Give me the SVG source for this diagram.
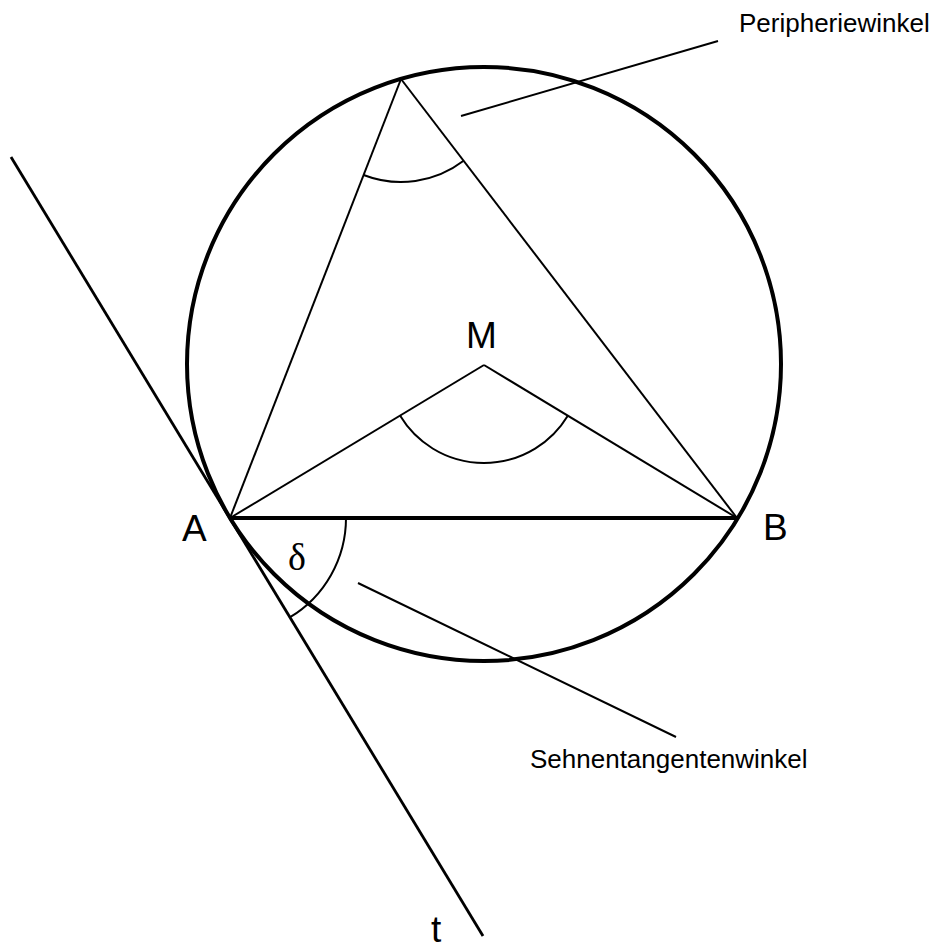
<svg xmlns="http://www.w3.org/2000/svg" width="938" height="951" viewBox="0 0 938 951">
<style>
.thin{fill:none;stroke:#000;stroke-width:2}
.thick{fill:none;stroke:#000;stroke-width:4}
.tan{fill:none;stroke:#000;stroke-width:2.8}
.lbl{font-family:"Liberation Sans",Arial,sans-serif;font-size:37px;fill:#000}
.note{font-family:"Liberation Sans",Arial,sans-serif;font-size:26px;fill:#000}
.greek{font-family:"Liberation Serif","DejaVu Serif",serif;font-size:38px;fill:#000}
</style>
<rect width="938" height="951" fill="#fff"/>
<g id="circle"><circle class="thick" cx="484" cy="364" r="297"/></g>
<g id="connectors">
<line class="thick" x1="230" y1="518" x2="737" y2="518"/>
<line class="thin" x1="401" y1="79" x2="230" y2="518"/>
<line class="thin" x1="401" y1="79" x2="737" y2="518"/>
<line class="thin" x1="484" y1="365" x2="230" y2="518"/>
<line class="thin" x1="484" y1="365" x2="737" y2="518"/>
<line class="tan" x1="11" y1="157" x2="483" y2="936"/>
<path class="thin" d="M363.6,175 A103,103 0 0 0 463.6,160.8"/>
<path class="thin" d="M400,415.6 A98,98 0 0 0 567.8,415.7"/>
<path class="thin" d="M346,518 A116,116 0 0 1 290.1,617.2"/>
<line class="thin" x1="461" y1="116" x2="718" y2="41"/>
<line class="thin" x1="358" y1="583" x2="676" y2="737"/>
</g>
<g id="A"><text class="lbl" x="182" y="541">A</text></g>
<g id="B"><text class="lbl" x="763" y="540">B</text></g>
<g id="M"><text class="lbl" x="466" y="348">M</text></g>
<g id="t"><text class="lbl" x="431" y="942">t</text></g>
<g id="delta"><text class="greek" x="288" y="570">δ</text></g>
<g id="peripheriewinkel"><text class="note" x="739" y="32">Peripheriewinkel</text></g>
<g id="sehnentangentenwinkel"><text class="note" x="530" y="768">Sehnentangentenwinkel</text></g>
</svg>
